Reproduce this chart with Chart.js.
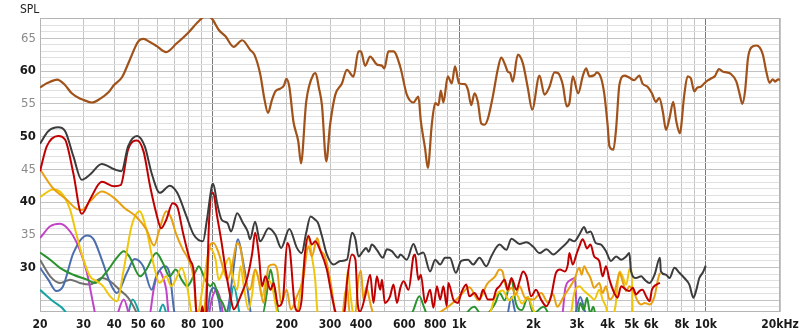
<!DOCTYPE html>
<html>
<head>
<meta charset="utf-8">
<script src="https://cdn.jsdelivr.net/npm/chart.js@4.4.1/dist/chart.umd.min.js"></script>
<style>
  html, body { margin: 0; padding: 0; background: #fff; }
  #wrap { width: 800px; height: 336px; }
</style>
</head>
<body>
<div id="wrap"><canvas id="spl"></canvas></div>
<script>
// Axis text
const axisTitle = 'SPL';
const xTickValues = [20,30,40,50,60,70,80,90,100,200,300,400,500,600,700,800,900,
  1000,2000,3000,4000,5000,6000,7000,8000,9000,10000,20000];
const xTickLabels = {20:'20',30:'30',40:'40',50:'50',60:'60',80:'80',100:'100',200:'200',
  300:'300',400:'400',600:'600',800:'800',1000:'1k',2000:'2k',3000:'3k',4000:'4k',
  5000:'5k',6000:'6k',8000:'8k',10000:'10k',20000:'20kHz'};
const yLabelValues = [30,35,40,45,50,55,60,65];

// Brown trace (overall response)
const brownHz = [20,21.5,23.5,25.2,26.9,29,30,32.4,35,38,40,43,46,50,52.5,56,59.5,65,71.5,80,89,95,100,106,113,122,132,142.5,148,156.5,162,168,174,180,188,195,199.5,205,213,223,228.6,240,257,262,270,278,289.5,300,315,335,351,373,391,400,416,436,464,487,498,517,542,577,614,653,684,700,728,747,775,800,825,843,864,900,934,963,1000,1055,1087,1120,1155,1191,1230,1268,1310,1370,1436,1482,1528,1576,1611,1651,1730,1813,1900,1978,2118,2219,2325,2436,2515,2633,2732,2800,2890,3040,3171,3274,3376,3540,3618,3766,3882,4000,4070,4222,4333,4467,4680,4900,5120,5380,5540,5810,6050,6280,6480,6700,6900,7130,7380,7600,7850,8185,8440,8700,8980,9260,9550,9850,10220,10550,10880,11320,11760,12140,12590,13310,13740,14060,14430,14830,15300,16040,16540,17050,17600,18150,18700,19100,19700,20000];
const brownDb = [57.5,58.2,58.7,57.9,56.6,55.8,55.6,55.2,55.75,56.8,57.9,59.05,61.5,64.5,64.9,64.4,63.8,62.9,64.2,65.9,67.8,68.5,67.9,66.3,65.3,63.7,64.7,63.2,62.5,59.4,56.0,53.6,55.5,56.9,57.3,57.8,58.8,57.6,52.3,49.2,45.9,55.3,59.5,59.7,57.5,54.8,46.2,51.8,56.4,58.1,60.2,59.15,63.0,63.0,60.8,62.2,61.0,60.8,60.4,63.0,63.0,60.7,56.4,55.2,56.1,52.3,48.2,45.2,51.8,55.1,54.8,57.0,55.2,59.2,58.1,60.7,58.1,58.0,57.1,54.8,56.6,55.3,52.0,51.8,52.8,56.1,60.3,62.05,61.2,59.9,59.7,58.4,62.5,61.2,57.4,54.1,59.3,56.4,57.6,59.8,59.7,57.9,54.6,55.1,59.2,56.6,59.2,60.4,59.2,59.4,59.8,58.9,56.4,51.8,48.5,48.0,51.3,57.9,59.3,59.0,58.6,59.3,58.1,57.6,56.6,55.3,55.9,53.8,51.0,52.8,55.3,52.3,50.5,56.4,59.2,58.9,56.9,57.5,57.6,58.1,58.6,58.9,59.2,60.3,59.9,59.8,59.6,58.4,56.4,55.0,56.9,61.95,63.6,63.9,63.6,62.5,59.9,58.2,58.75,58.4,58.75,58.6];

// Dark grey trace
const greyHz = [20,21.6,23.7,25.3,27.3,29.5,31.9,35.6,40,42.8,45.5,49.5,53.2,56.7,61.2,67.2,72,78.5,84,91.6,95,99.7,100.7,104.5,109,115,119,126,133,139,142,149,156,169,180,190,205,220,230,240,250,261,268,278,291,310,330,351,368,380,391,408,420,430,443,464,491,510,534,566,578,614,653,684,716,763,800,838,877,918,970,1020,1087,1140,1210,1290,1350,1459,1555,1630,1758,1875,1995,2120,2260,2410,2565,2760,2800,2930,3070,3215,3300,3410,3580,3760,3940,4130,4330,4540,4760,4900,4980,5220,5470,5650,5920,6200,6520,6580,6900,7130,7470,7820,8190,8580,8910,9130,9420,9720,10000];
const greyDb = [48.9,50.8,51.4,50.8,47.0,43.4,44.2,45.8,45.0,44.7,48.5,50.1,48.5,44.4,41.4,42.5,41.4,37.8,35.0,34.0,37.3,42.6,42.8,39.8,37.3,36.8,35.5,38.3,36.8,35.5,34.3,37.0,34.0,36.0,35.0,33.0,35.9,33.0,32.2,35.3,37.8,37.3,36.8,34.8,32.0,30.45,31.0,31.2,35.3,34.3,31.7,32.5,33.0,32.4,33.5,32.7,31.5,32.8,32.5,31.5,32.0,31.2,33.6,32.0,32.3,29.4,31.2,30.45,31.5,31.5,29.2,31.0,31.2,30.45,31.5,30.2,31.7,33.5,32.7,34.4,33.6,33.85,33.2,32.2,32.8,32.0,32.8,33.95,34.3,34.0,35.0,36.2,35.3,35.5,33.75,33.5,32.5,31.0,31.7,31.2,31.7,32.2,29.4,28.4,28.65,28.15,27.65,28.9,31.5,29.4,28.9,28.4,29.95,29.2,28.4,27.4,25.4,26.4,28.4,29.2,30.3];

// Red trace
const redHz = [20,21.3,23.7,25.3,27.3,29.5,31.9,35.6,40,42.5,45.5,49.5,52.6,55.9,59.2,62,65,69,72,76,81,84,86,88,91,93.5,97,99.7,100.7,104.5,109,113,119,122,130,139,145,149,154,159,164,172,177,185,193,201,206,216,223,230,237,245,253,261,273,291,305,315,330,345,351,368,380,388,397,416,436,450,464,479,487,500,525,542,560,578,596,624,653,663,684,700,728,763,787,813,838,864,891,905,948,990,1020,1070,1100,1155,1210,1250,1310,1370,1415,1460,1530,1575,1630,1710,1758,1815,1875,1960,2050,2150,2260,2360,2470,2565,2680,2760,2800,2890,2990,3070,3170,3215,3300,3410,3530,3700,3820,3940,4070,4260,4390,4540,4760,4900,5060,5220,5380,5540,5730,5920,6050,6320,6520];
const redDb = [44.7,48.5,50.1,49.5,44.4,38.2,40.4,43.1,42.4,42.6,48.0,49.4,47.7,42.4,38.3,36.0,37.3,39.8,39.3,35.3,31.2,29.4,23.3,20.5,24.1,21.0,37.3,41.4,41.4,37.8,33.75,29.7,25.1,23.6,25.6,28.65,32.2,35.3,32.2,27.15,28.65,26.6,27.65,24.1,25.1,33.75,32.7,24.1,23.3,25.1,32.0,34.8,33.5,34.0,32.7,29.7,25.6,23.3,21.5,24.0,27.65,32.0,31.2,24.6,23.3,25.6,28.9,24.6,28.65,26.6,28.15,24.6,25.6,27.4,24.6,26.9,27.9,26.6,31.7,32.0,28.15,28.9,24.6,26.6,23.85,27.15,25.1,27.15,24.1,27.65,25.1,24.6,26.1,27.4,25.6,26.1,25.1,26.6,25.1,25.1,26.6,27.15,28.15,26.6,28.4,26.6,27.9,29.4,28.65,25.6,26.6,25.1,24.1,25.6,29.2,29.7,29.4,30.45,32.2,30.45,32.0,33.2,34.3,33.95,32.9,33.5,31.7,31.0,28.65,30.2,28.15,26.1,25.4,27.15,26.6,26.4,26.9,25.9,26.4,26.6,25.6,24.85,26.6,27.4,27.65];

// Orange trace
const orangeHz = [20,22.6,25.6,28,29.5,31.9,35.6,40,44,49,54,58,61,65,68,71,76,80,84,86,88,93,98,101,106,111,115,120,126,130,136,142,149,154,161,169,177,183,190,200,208,220,233,245,253,266,274,286,300,310,318,335,345,352,360,380,390,400,410,420,440,460,700,900,1000,1100,1200,1300,1400,1459,1500,1530,1575,1630,1700,1758,1850,1995,2150,2300,2400,2500,2650,2800,2930,3070,3140,3215,3300,3410,3530,3700,3820,3940,4070,4260,4390,4470,4600,4760,4900,5060,5300,5470,5650,5920,6200,6400,6520];
const orangeDb = [45.0,42.1,40.4,39.0,38.8,40.1,41.6,40.6,39.1,37.8,35.8,33.35,35.8,38.6,37.6,35.3,32.7,31.2,28.15,23.3,21.0,24.0,33.5,33.75,32.2,29.7,28.15,30.2,33.75,32.9,28.15,26.6,29.7,28.15,24.6,30.2,30.45,29.7,24.6,26.6,23.6,25.6,28.15,33.2,31.7,34.5,32.7,31.7,28.15,24.6,21.0,22.0,26.0,27.0,23.0,23.0,28.0,29.5,25.0,27.0,24.0,22.0,22.0,24.0,25.5,27.0,25.0,27.5,28.65,29.7,29.4,27.9,26.4,26.9,25.9,27.15,25.4,25.1,26.1,24.6,26.0,24.0,25.5,26.9,28.15,29.95,28.9,30.2,29.4,28.4,26.9,27.65,26.1,27.15,25.1,26.1,28.15,29.2,27.9,26.4,27.15,26.6,24.85,24.35,24.6,24.35,25.6,28.15,29.2];

// Yellow trace
const yellowHz = [20,22.6,24.1,26.5,28,30,31.9,34,36,38.5,41,43.7,47,50.6,54,58,61,65,68,71,75,78.5,82,85,91.5,98,103,106,111,117,120,126,130,134,140,145,149,154,159,166,174,182,190,215,228,237,245,253,261,266,275,340,351,355,360,368,380,1300,1400,1500,1600,1700,1800,1900,2000,2200,2800,2930,3070,3215,3410,3530,3700,3820,3940,4070,4300,4470,4600,4760,4900,5000,5060];
const yellowDb = [40.75,41.9,41.6,38.8,35.3,31.2,28.65,27.9,27.15,25.6,24.85,29.7,36.3,38.6,35.8,30.2,27.65,28.65,27.15,28.15,29.95,27.65,23.3,21.0,27.15,32.9,31.2,28.15,29.7,31.5,29.2,26.6,30.2,27.15,23.6,26.0,29.7,28.15,25.6,28.15,27.4,23.6,21.0,21.0,26.6,31.2,34.8,31.7,28.15,23.6,21.0,22.0,28.15,29.7,27.0,24.0,21.0,22.0,25.5,26.5,25.0,26.0,24.5,25.5,23.5,22.0,22.0,26.1,27.15,26.4,25.6,25.1,26.6,25.1,24.0,22.0,24.0,29.4,28.65,27.4,29.7,30.0,22.0];

// Green trace
const greenHz = [20,22,24.1,27.3,31,33.5,37,41,43.7,46,51,54,59.2,63,67,71,75,79,85.5,88,93.5,98,101,106,110,115,160,166,172,177,182,188,640,690,720,760,1000,1150,1250,1400,1460,1530,1630,1700,1800,1900,2000,2200,2400,3000,3100,3200,3300,3400,3500,3600];
const greenDb = [32.3,31.2,29.95,28.9,28.15,27.65,29.2,31.5,32.5,31.7,28.65,29.7,32.2,30.7,28.65,29.7,28.15,27.15,29.4,30.2,28.15,27.15,27.65,25.5,24.6,23.0,23.0,26.0,29.7,27.6,24.6,22.0,23.0,25.6,24.0,22.0,22.0,24.0,22.5,24.5,26.1,25.0,28.15,24.5,23.5,25.5,23.0,24.0,22.0,22.0,24.6,23.5,25.4,23.0,24.0,22.0];

// Blue trace
const blueHz = [20,21.6,23.3,24.8,27.3,31,33,35.6,38.5,41,45,48.4,52.4,56.7,59.2,64,67.2,70,73,95,98,101,106,110,116,121,127,133,139,143,146,1550,1630,1700,2900,3100,3200,3300];
const blueDb = [29.95,28.15,26.4,27.15,32.2,34.9,34.3,31.2,27.65,26.1,29.2,31.3,30.2,26.6,28.65,30.2,28.9,23.3,21.0,23.0,26.1,26.9,25.1,22.0,24.0,29.0,34.3,31.0,26.6,23.0,21.0,22.0,25.5,23.0,22.0,25.5,24.0,22.0];

// Magenta trace
const magentaHz = [20,22,24.1,26.5,29,31,33,34,40,43.7,47,55,58,61,63,65,67,95,100,104,108,112,2600,2700,2850,2950,3000];
const magentaDb = [34.5,36.3,36.7,35.5,32.7,29.2,24.1,22.0,22.0,25.1,22.0,22.0,27.0,29.5,28.5,26.6,22.0,22.0,25.5,26.6,25.0,22.0,22.0,27.0,28.15,28.4,22.0];

// Light grey trace
const slateHz = [20,22,24.1,26.5,29,31.9,35.6,38.5,42,45.5,49,52];
const slateDb = [31.2,28.65,27.65,28.15,27.65,27.4,28.4,27.9,26.6,25.4,23.3,21.0];

// Teal trace
const tealHz = [20,22.6,25.3,27,44,47.5,50,52,60,63,66,115,122,128,131];
const tealDb = [26.6,24.85,23.3,21.0,21.0,25.1,23.5,21.0,22.5,24.35,22.5,22.0,27.15,23.5,21.0];

const pairs = (hz, db) => hz.map((f, i) => ({ x: f, y: db[i] }));

const traces = [
  { hz: brownHz,   db: brownDb,   color: '#a0521a', w: 2.2 },
  { hz: greyHz,    db: greyDb,    color: '#3c3c3c', w: 2 },
  { hz: redHz,     db: redDb,     color: '#c00000', w: 2 },
  { hz: orangeHz,  db: orangeDb,  color: '#e8a010', w: 2 },
  { hz: yellowHz,  db: yellowDb,  color: '#f0c60c', w: 2 },
  { hz: greenHz,   db: greenDb,   color: '#2a922e', w: 2 },
  { hz: blueHz,    db: blueDb,    color: '#4a6eae', w: 2 },
  { hz: magentaHz, db: magentaDb, color: '#c244c6', w: 2 },
  { hz: slateHz,   db: slateDb,   color: '#707070', w: 2 },
  { hz: tealHz,    db: tealDb,    color: '#14a2a2', w: 2 }
];

const FONT = "'DejaVu Sans Condensed', 'Liberation Sans Narrow', 'DejaVu Sans', sans-serif";

// Plot frame and the axis caption
const framePlugin = {
  id: 'frame',
  beforeDatasetsDraw(chart) {
    const { ctx, chartArea: a } = chart;
    ctx.save();
    ctx.strokeStyle = '#b4b4b4';
    ctx.lineWidth = 1;
    ctx.strokeRect(a.left + 0.5, a.top + 0.5, a.right - a.left - 1, a.bottom - a.top - 1);
    ctx.restore();
  },
  afterDraw(chart) {
    const { ctx } = chart;
    ctx.save();
    ctx.fillStyle = '#222';
    ctx.font = '12px ' + FONT;
    ctx.textBaseline = 'middle';
    ctx.fillText(axisTitle, 20, 10);
    ctx.restore();
  }
};

new Chart(document.getElementById('spl'), {
  type: 'line',
  data: {
    datasets: traces.map(t => ({
      data: pairs(t.hz, t.db),
      borderColor: t.color,
      borderWidth: t.w,
      pointRadius: 0,
      fill: false,
      cubicInterpolationMode: 'monotone'
    }))
  },
  options: {
    responsive: true,
    maintainAspectRatio: false,
    animation: false,
    layout: { padding: { left: 0, right: 20, top: 18, bottom: 0 } },
    plugins: { legend: { display: false }, tooltip: { enabled: false } },
    scales: {
      x: {
        type: 'logarithmic',
        min: 20,
        max: 20000,
        afterBuildTicks: s => { s.ticks = xTickValues.map(v => ({ value: v })); },
        afterFit: s => { s.height = 24; s.paddingLeft = 0; s.paddingRight = 0; },
        border: { display: false },
        grid: {
          drawTicks: false,
          color: c => [100, 1000, 10000].includes(c.tick && c.tick.value) ? '#7a7a7a' : '#c4c4c4'
        },
        ticks: {
          autoSkip: false,
          maxRotation: 0,
          padding: 6,
          color: '#1a1a1a',
          font: { family: FONT, size: 12, weight: 'bold' },
          callback: v => xTickLabels[v] || ''
        }
      },
      y: {
        min: 23.21,
        max: 68.1,
        afterBuildTicks: s => {
          const t = [];
          for (let v = 24; v <= 68; v++) t.push({ value: v });
          s.ticks = t;
        },
        afterFit: s => { s.width = 40; },
        border: { display: false },
        grid: {
          drawTicks: false,
          color: c => (c.tick && c.tick.value % 5 === 0) ? '#c2c2c2' : '#e0e0e0'
        },
        ticks: {
          autoSkip: false,
          padding: 4,
          color: c => (c.tick && c.tick.value % 10 === 0) ? '#1a1a1a' : '#8a8a8a',
          font: c => ({ family: FONT, size: 13, weight: (c.tick && c.tick.value % 10 === 0) ? 'bold' : 'normal' }),
          callback: v => yLabelValues.includes(v) ? String(v) : ''
        }
      }
    }
  },
  plugins: [framePlugin]
});
</script>
</body>
</html>
